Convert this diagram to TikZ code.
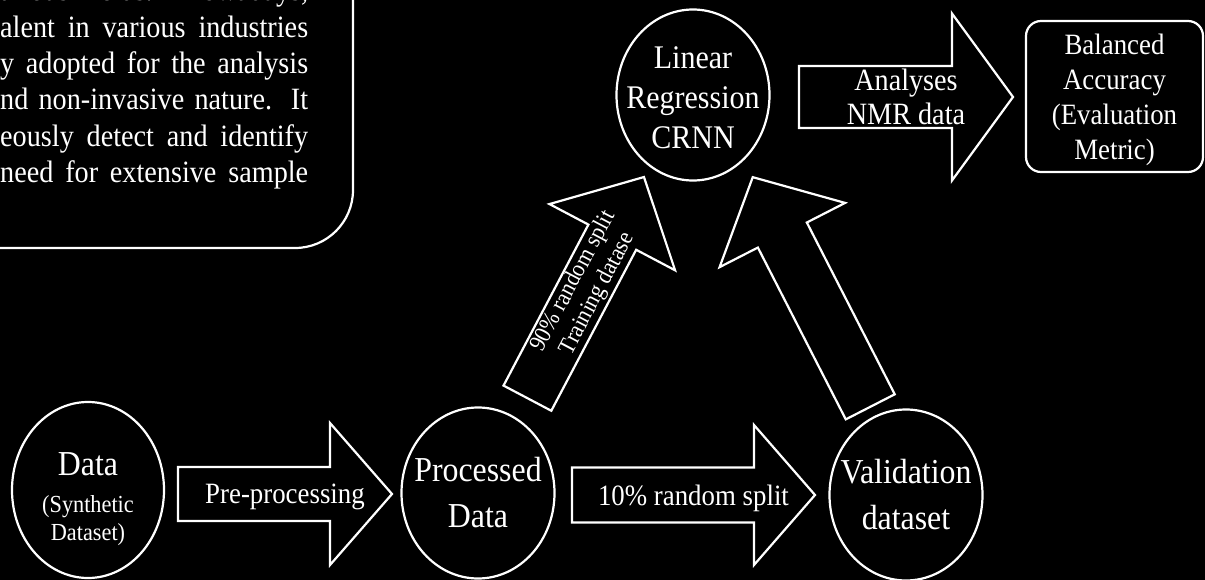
\documentclass[tikz,border=0pt]{standalone}
\usepackage{fontspec}
\setmainfont{Liberation Serif}[FakeStretch=0.91]
\usetikzlibrary{shapes.geometric}

\newcommand{\sz}[2]{\fontsize{#1}{#2}\selectfont}
% block arrow: node options, centre, angle, length, shaft, head width, head length, text
\newcommand{\blockarrow}[8]{%
  \begin{scope}[shift={#2}, rotate=#3]
    \draw[outline] (-#4/2,-#5/2) -- (#4/2-#7,-#5/2) -- (#4/2-#7,-#6/2) -- (#4/2,0)
      -- (#4/2-#7,#6/2) -- (#4/2-#7,#5/2) -- (-#4/2,#5/2) -- cycle;
    \node[arrowtext, rotate=#3, #1] at (0,0) {#8};
  \end{scope}}

\tikzset{
  outline/.style={draw=white, line width=2.2pt},
  stage/.style={ellipse, outline, minimum width=153pt, minimum height=171pt, inner sep=0pt},
  arrowtext/.style={text=white, align=center, inner sep=0pt, font=\sz{29.5}{34}},
}

\begin{document}
\begin{tikzpicture}[x=1pt, y=-1pt, color=white, line join=miter]
  % Background
  \fill[black] (0,0) rectangle (1205,580);
  \useasboundingbox (0,0) rectangle (1205,580);

  % Intro panel, cut by the page edge
  \draw[outline, rounded corners=58pt] (353,-60) -- (353,248) -- (-60,248);
  \foreach \row [count=\i from 0] in {{arious fields. Nowadays,}, alent in various industries, y adopted for the analysis, nd non-invasive nature. It, eously detect and identify, need for extensive sample}
    \node[anchor=base west, inner sep=0pt, font=\sz{31}{36}] (intro\i) at (0,1+36.3*\i) {\makebox[308pt][s]{\row}};

  % Stages
  \node[stage, minimum width=152pt, minimum height=176pt] (data) at (88,490) {};
  \node[font=\sz{35}{40}] (datat) at (88,464) {Data};
  \node[align=center, font=\sz{24.5}{28}] (datas) at (88,521) {(Synthetic\\Dataset)};
  \node[stage] (proc) at (478,493) {};
  \node[align=center, font=\sz{35}{46}] (proct) at (proc) {Processed\\Data};
  \node[stage] (valid) at (906,495) {};
  \node[align=center, font=\sz{35}{46}] (validt) at (valid) {Validation\\dataset};
  \node[stage] (model) at (693,95) {};
  \node[align=center, font=\sz{33}{40}, yshift=-3pt] (modelt) at (model) {Linear\\Regression\\CRNN};
  \node[outline, rounded corners=15pt, minimum width=177pt, minimum height=151pt,
    align=center, font=\sz{29.5}{35}] (metric) at (1114.5,96.5) {};
  \node[align=center, font=\sz{29.5}{35}, yshift=-3pt] (metrict) at (metric) {Balanced\\Accuracy\\(Evaluation\\Metric)};

  % Arrows
  \blockarrow{name=prep, yshift=-3pt}{(285,494)}{0}{214}{54}{142}{62}{Pre-processing}
  \blockarrow{name=split, yshift=-3pt}{(693.5,495)}{0}{243}{55}{140}{61}{10\% random split}
  \blockarrow{name=train, font=\sz{24}{27}}{(585.7,287.6)}{62.2}{250}{54}{142}{68}{90\% random split\\Training datase}
  \blockarrow{name=back}{(811.5,292)}{117.1}{258}{55}{141}{65}{}
  \blockarrow{name=ana, font=\sz{31}{34}}{(906,97)}{0}{214}{62}{167}{61}{Analyses\\NMR data}
\end{tikzpicture}
\end{document}
